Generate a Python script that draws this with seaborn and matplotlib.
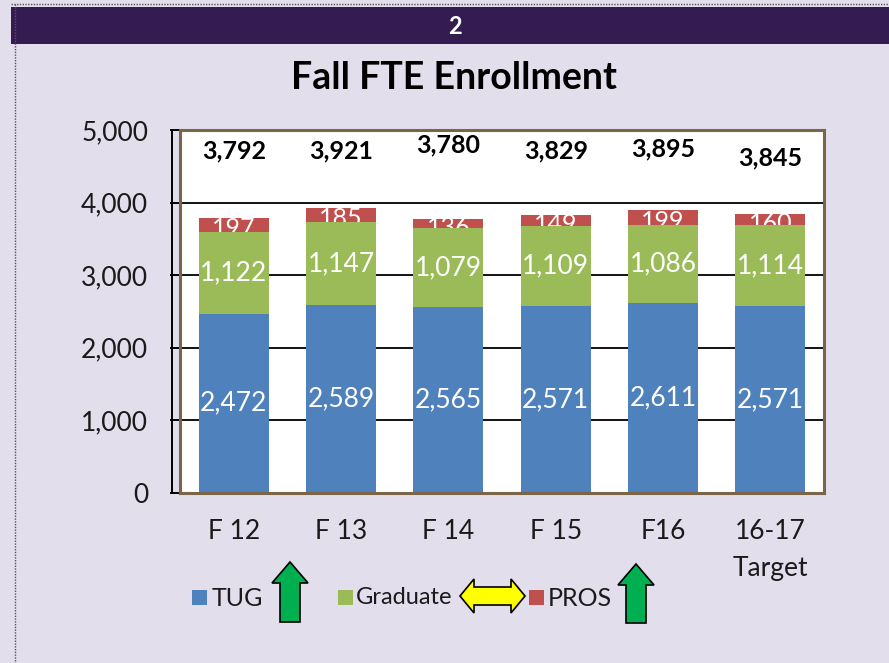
import matplotlib
matplotlib.use("Agg")
import matplotlib.pyplot as plt
from matplotlib.patches import Polygon, Rectangle
from matplotlib.lines import Line2D
import seaborn as sns
import pandas as pd

# Fall FTE enrollment by term
terms = ["F 12", "F 13", "F 14", "F 15", "F16", "16-17\nTarget"]
tug = [2472, 2589, 2565, 2571, 2611, 2571]
graduate = [1122, 1147, 1079, 1109, 1086, 1114]
pros = [197, 185, 136, 149, 199, 160]
totals = [3792, 3921, 3780, 3829, 3895, 3845]
y_ticks = [0, 1000, 2000, 3000, 4000, 5000]

BG = "#e2deec"
BANNER = "#341b52"
C_TUG = "#4f81bd"
C_GRAD = "#9bbb59"
C_PROS = "#c0504d"
BORDER = "#7b6548"
BAR_W = 0.65

sns.set_theme(style="white")
plt.rcParams["font.family"] = ["Lato", "DejaVu Sans"]

df = pd.DataFrame({"term": terms, "tug": tug, "graduate": graduate, "pros": pros})
df["lvl1"] = df["tug"]
df["lvl2"] = df["tug"] + df["graduate"]
df["lvl3"] = df["lvl2"] + df["pros"]

fig = plt.figure(figsize=(8.89, 6.63), dpi=100, facecolor=BG)
ax = fig.add_axes([0.2025, 0.2564, 0.7244, 0.5475])
ax.set_facecolor("white")

# gridlines under the bars
for v in y_ticks[1:-1]:
    ax.axhline(v, color="black", lw=1.3, zorder=0)

# stacked bars: draw cumulative heights from top down
for col, color in [("lvl3", C_PROS), ("lvl2", C_GRAD), ("lvl1", C_TUG)]:
    sns.barplot(data=df, x="term", y=col, color=color, width=BAR_W,
                saturation=1, ax=ax, zorder=2, edgecolor="none")

ax.set_ylim(0, 5000)
ax.set_xlim(-0.5, len(terms) - 0.5)
ax.set_yticks(y_ticks)
ax.set_yticklabels([f"{v:,}" for v in y_ticks], fontsize=19, color="#1a1a1a")
ax.set_xticks(range(len(terms)))
ax.set_xticklabels(terms, fontsize=19, color="#1a1a1a", linespacing=1.6, va="top")
ax.set_xlabel("")
ax.set_ylabel("")
ax.tick_params(axis="y", which="both", left=True, length=7, width=1.4,
               color="black", pad=16, direction="out")
ax.tick_params(axis="x", bottom=False, pad=13)

for s in ax.spines.values():
    s.set_visible(True)
    s.set_color(BORDER)
    s.set_linewidth(2.2)

# black value axis line just outside the frame
ax.add_line(Line2D([-0.012, -0.012], [0, 1], transform=ax.transAxes,
                   color="black", lw=1.4, clip_on=False, zorder=5))

# segment labels; the small PROS labels are cut to their own segment
for i in range(len(terms)):
    ax.text(i, tug[i] / 2, f"{tug[i]:,}", color="white", ha="center",
            va="center", fontsize=19, zorder=4)
    ax.text(i, tug[i] + graduate[i] / 2, f"{graduate[i]:,}", color="white",
            ha="center", va="center", fontsize=19, zorder=4)
    base = tug[i] + graduate[i]
    seg = Rectangle((i - BAR_W / 2, base), BAR_W, pros[i], transform=ax.transData)
    t = ax.text(i, base + pros[i] / 2 - 50, f"{pros[i]:,}", color="white",
                ha="center", va="center", fontsize=18, zorder=4, clip_on=True)
    t.set_clip_path(seg)

# totals above the bars
nudge = [0, 0, 80, 0, 30, -90]
for i, t in enumerate(totals):
    ax.text(i, 4710 + nudge[i], f"{t:,}", color="black", ha="center",
            va="center", fontsize=18, fontweight="bold", zorder=4)

# header banner and dotted frame
W, H = 889, 663
def fx(x):
    return x / W
def fy(y):
    return 1 - y / H

fig.patches.append(Rectangle((fx(11), fy(44)), fx(878), 37 / H,
                             transform=fig.transFigure, facecolor=BANNER,
                             edgecolor="none", zorder=0))
fig.text(fx(455), fy(26), "2", color="white", fontsize=17, fontweight="bold",
         ha="center", va="center")
fig.lines.append(Line2D([fx(11), fx(889)], [fy(4), fy(4)], transform=fig.transFigure,
                        color="#555555", lw=1, ls=(0, (1, 1))))
fig.lines.append(Line2D([fx(15), fx(15)], [fy(4), fy(663)], transform=fig.transFigure,
                        color="#555555", lw=1, ls=(0, (1, 1))))

fig.text(fx(454), fy(78), "Fall FTE Enrollment", color="black", fontsize=27,
         fontweight="bold", ha="center", va="center")

# legend with trend arrows
def square(x, color):
    fig.patches.append(Rectangle((fx(x), fy(605)), 15 / W, 15 / H,
                                 transform=fig.transFigure, facecolor=color,
                                 edgecolor="none"))

def up_arrow(cx, top, bottom):
    pts = [(cx - 10, bottom), (cx + 10, bottom), (cx + 10, top + 21), (cx + 18, top + 21),
           (cx, top), (cx - 18, top + 21), (cx - 10, top + 21)]
    fig.patches.append(Polygon([(fx(a), fy(b)) for a, b in pts], closed=True,
                               transform=fig.transFigure, facecolor="#00b050",
                               edgecolor="black", lw=1.2))

def double_arrow(x0, x1, cy):
    pts = [(x0, cy), (x0 + 14, cy - 17), (x0 + 14, cy - 9), (x1 - 14, cy - 9),
           (x1 - 14, cy - 17), (x1, cy), (x1 - 14, cy + 17), (x1 - 14, cy + 9),
           (x0 + 14, cy + 9), (x0 + 14, cy + 17)]
    fig.patches.append(Polygon([(fx(a), fy(b)) for a, b in pts], closed=True,
                               transform=fig.transFigure, facecolor="#ffff00",
                               edgecolor="black", lw=1.2))

square(192, C_TUG)
fig.text(fx(212), fy(598), "TUG", fontsize=18, ha="left", va="center", color="#1a1a1a")
up_arrow(290, 562, 622)
square(338, C_GRAD)
fig.text(fx(356), fy(598), "Graduate", fontsize=17, ha="left", va="center", color="#1a1a1a")
double_arrow(460, 525, 596)
square(529, C_PROS)
fig.text(fx(548), fy(598), "PROS", fontsize=18, ha="left", va="center", color="#1a1a1a")
up_arrow(636, 564, 623)

fig.savefig("out.png", dpi=100, facecolor=BG)
